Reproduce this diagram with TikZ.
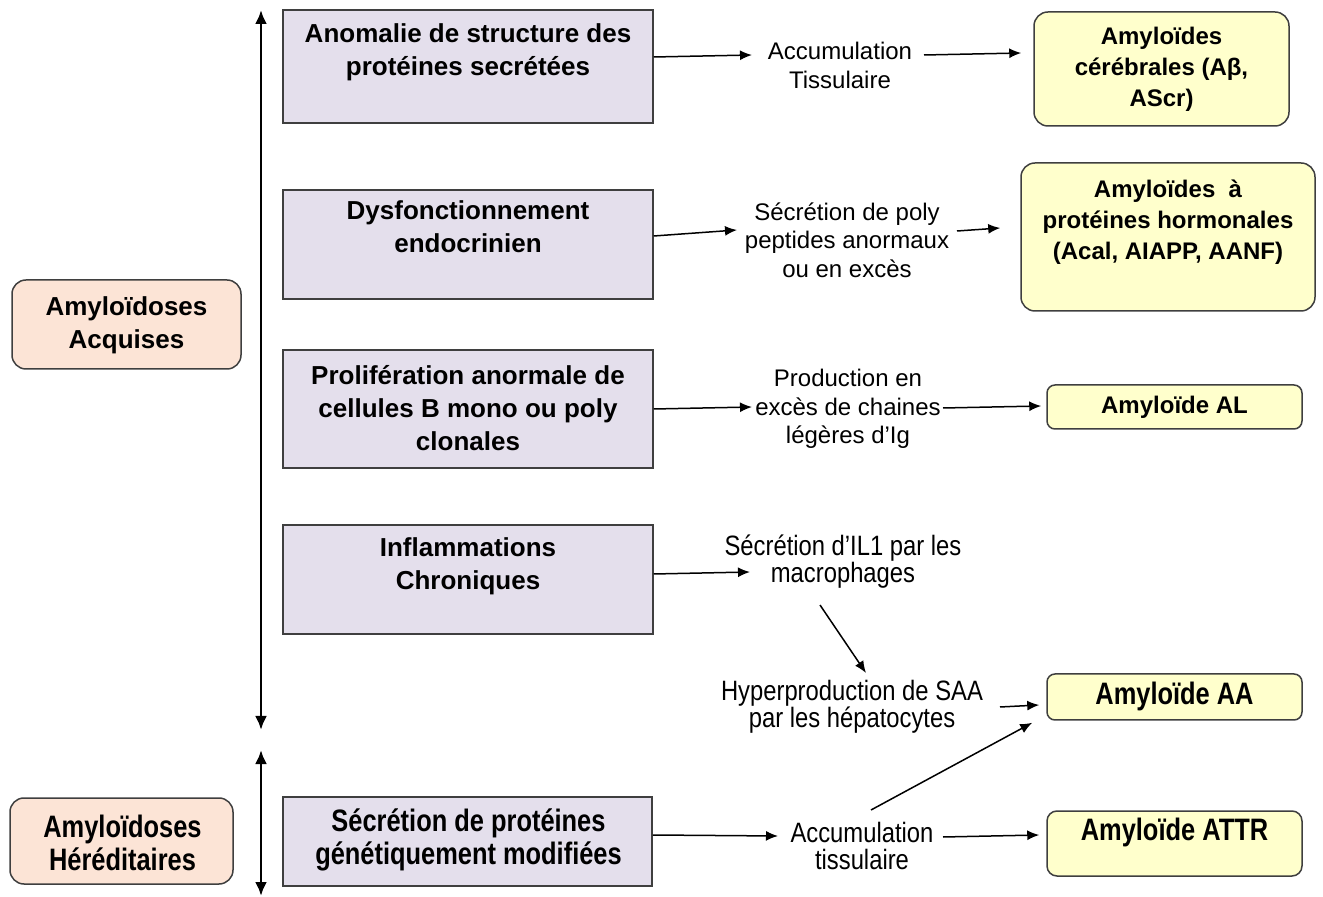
\documentclass[tikz,border=0pt]{standalone}
\usepackage{fontspec}
\setmainfont{Liberation Sans}
\newfontfamily\narrowreg[FakeStretch=0.85]{Liberation Sans}
\newfontfamily\narrowbold[FakeStretch=0.82]{Liberation Sans Bold}
\usetikzlibrary{arrows.meta}
\definecolor{lav}{HTML}{E4DFEC}
\definecolor{peach}{HTML}{FCE4D6}
\definecolor{yel}{HTML}{FFFFCC}
\definecolor{bord}{HTML}{3F3F3F}
\begin{document}
\begin{tikzpicture}[x=0.5pt,y=-0.5pt,
  cause/.style={draw=bord, fill=lav, line width=0.75pt, inner sep=0, minimum width=185pt},
  grp/.style={draw=bord, fill=peach, line width=0.75pt, rounded corners=7pt, inner sep=0},
  res/.style={draw=bord, fill=yel, line width=0.75pt, rounded corners=7pt, inner sep=0},
  bl/.style={font=\fontsize{13}{16.5}\selectfont\bfseries, align=center, inner sep=0},
  rl/.style={font=\fontsize{12}{15.5}\selectfont\bfseries, align=center, inner sep=0},
  nbl/.style={font=\fontsize{15.5}{16.5}\selectfont\narrowbold, align=center, inner sep=0},
  mid/.style={font=\fontsize{12}{14.3}\selectfont, align=center, inner sep=0},
  nmid/.style={font=\fontsize{14}{13.5}\selectfont\narrowreg, align=center, inner sep=0},
  arr/.style={-{Latex[length=6pt,width=5pt]}, line width=0.75pt},
  varr/.style={{Latex[length=7pt,width=6pt]}-{Latex[length=7pt,width=6pt]}, line width=1.4pt}
]
\useasboundingbox (0,0) rectangle (1323,897);

% group boxes
\node[grp, minimum width=114.5pt, minimum height=44.5pt] (g1) at (126.5,324.5) {};
\node[bl] (g1t) at (126.5,325) {Amyloïdoses\\Acquises};
\node[grp, minimum width=111.5pt, minimum height=43pt] (g2) at (121.5,841) {};
\node[nbl] (g2t) at (122.5,842.5) {Amyloïdoses\\Héréditaires};

% vertical arrows
\coordinate (v1a) at (261,10);
\coordinate (v1b) at (261,730);
\coordinate (v2a) at (261,750);
\coordinate (v2b) at (261,896);
\draw[varr] (v1a) -- (v1b);
\draw[varr] (v2a) -- (v2b);

% cause boxes
\node[cause, minimum height=56.5pt] (b1) at (468,66.5) {};
\node[bl] (t1) at (468,52.5) {Anomalie de structure des\\protéines secrétées};
\node[cause, minimum height=54.5pt] (b2) at (468,244.5) {};
\node[bl] (t2) at (468,227) {Dysfonctionnement\\endocrinien};
\node[cause, minimum height=59pt] (b3) at (468,409) {};
\node[bl] (t3) at (468,408.5) {Prolifération anormale de\\cellules B mono ou poly\\clonales};
\node[cause, minimum height=54.5pt] (b4) at (468,579.5) {};
\node[bl] (t4) at (468,566) {Inflammations\\Chroniques};
\node[cause, minimum width=184.5pt, minimum height=44.5pt] (b5) at (467.5,841.5) {};
\node[nbl] (t5) at (468.5,839.5) {Sécrétion de protéines\\génétiquement modifiées};

% middle texts
\node[mid] (m1) at (840,65.5) {Accumulation\\Tissulaire};
\node[mid] (m2) at (847,240) {Sécrétion de poly\\peptides anormaux\\ou en excès};
\node[mid] (m3) at (848,409) {Production en\\excès de chaines\\légères d’Ig};
\node[nmid] (m4) at (843,562) {Sécrétion d’IL1 par les\\macrophages};
\node[nmid] (m5) at (852,706.5) {Hyperproduction de SAA\\par les hépatocytes};
\node[nmid] (m6) at (862,845.5) {Accumulation\\tissulaire};

% result boxes
\node[res, minimum width=127.5pt, minimum height=57pt] (r1) at (1161.5,69) {};
\node[rl] (r1t) at (1161.5,69.5) {Amyloïdes\\cérébrales (Aβ,\\AScr)};
\node[res, minimum width=147pt, minimum height=74pt] (r2) at (1168,237) {};
\node[rl] (r2t) at (1168,222.5) {Amyloïdes~ à\\protéines hormonales\\(Acal, AIAPP, AANF)};
\node[res, rounded corners=4pt, minimum width=127.5pt, minimum height=22pt] (r3) at (1174.5,407) {};
\node[rl] (r3t) at (1174.5,407) {Amyloïde AL};
\node[res, rounded corners=4pt, minimum width=127.5pt, minimum height=23pt] (r4) at (1174.5,697) {};
\node[nbl] (r4t) at (1174.5,696) {Amyloïde AA};
\node[res, rounded corners=5pt, minimum width=127.5pt, minimum height=32.5pt] (r5) at (1174.5,843.5) {};
\node[nbl] (r5t) at (1174.5,832) {Amyloïde ATTR};

% connectors
\draw[arr] ([yshift=4.75pt]b1.east) -- ([xshift=-44pt,yshift=5.25pt]m1.center);
\draw[arr] ([xshift=42pt,yshift=5.25pt]m1.center) -- ([xshift=-6pt,yshift=8pt]r1.west);
\draw[arr] ([yshift=4.25pt]b2.east) -- ([xshift=-55pt,yshift=5pt]m2.center);
\draw[arr] ([xshift=55pt,yshift=4.5pt]m2.center) -- ([xshift=-10pt,yshift=4.5pt]r2.west);
\draw[arr] (b3.east) -- ([xshift=-48pt,yshift=1pt]m3.center);
\draw[arr] ([xshift=47.5pt,yshift=0.5pt]m3.center) -- ([xshift=-2.5pt,yshift=0.5pt]r3.west);
\draw[arr] ([yshift=2.75pt]b4.east) -- ([xshift=-46.5pt,yshift=-5pt]m4.center);
\draw[arr] ([xshift=-11.5pt,yshift=-21.5pt]m4.center) -- ([xshift=7pt,yshift=16.75pt]m5.center);
\draw[arr] ([xshift=74pt,yshift=-0.25pt]m5.center) -- ([xshift=-3.5pt,yshift=-4pt]r4.west);
\draw[arr] ([xshift=4.5pt,yshift=17.75pt]m6.center) -- ([xshift=-7pt,yshift=-1pt]r4.south west);
\draw[arr] ([yshift=3.25pt]b5.east) -- ([xshift=-42pt,yshift=4.75pt]m6.center);
\draw[arr] ([xshift=40.5pt,yshift=4.25pt]m6.center) -- ([xshift=-3.5pt,yshift=4.25pt]r5.west);
\end{tikzpicture}
\end{document}
